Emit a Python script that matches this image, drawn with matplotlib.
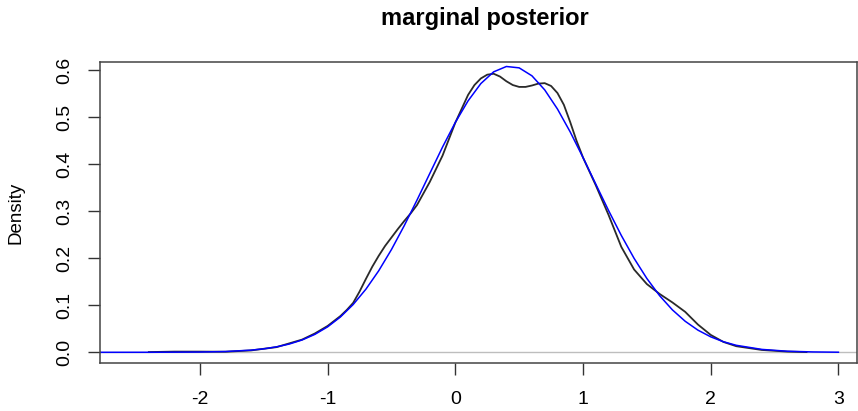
import matplotlib.pyplot as plt

# posterior sample kernel density (black)
kdeX = [-2.4, -2.2, -2.0, -1.8, -1.6, -1.4, -1.2, -1.1, -1.0, -0.9, -0.85, -0.8, -0.75,
        -0.7, -0.65, -0.6, -0.55, -0.5, -0.45, -0.4, -0.35, -0.3, -0.2, -0.1, 0.0, 0.1,
        0.15, 0.2, 0.25, 0.3, 0.35, 0.4, 0.45, 0.5, 0.55, 0.6, 0.65, 0.7, 0.75, 0.8,
        0.85, 0.9, 0.95, 1.0, 1.1, 1.2, 1.3, 1.4, 1.5, 1.6, 1.7, 1.8, 1.9, 2.0, 2.1,
        2.2, 2.4, 2.6, 2.75]
kdeY = [0.0005, 0.0015, 0.0015, 0.0012, 0.004, 0.011, 0.027, 0.040, 0.056, 0.077, 0.090,
        0.105, 0.129, 0.156, 0.182, 0.205, 0.226, 0.244, 0.262, 0.279, 0.295, 0.313,
        0.362, 0.418, 0.488, 0.547, 0.568, 0.582, 0.590, 0.592, 0.586, 0.576, 0.568,
        0.564, 0.564, 0.567, 0.571, 0.572, 0.566, 0.551, 0.526, 0.489, 0.449, 0.414,
        0.355, 0.292, 0.224, 0.176, 0.145, 0.124, 0.106, 0.086, 0.059, 0.037, 0.022,
        0.013, 0.005, 0.0015, 0.0005]

# approximating normal density (blue)
normX = [-2.782, -2.4, -2.0, -1.8, -1.6, -1.5, -1.4, -1.3, -1.2, -1.1, -1.0, -0.9, -0.8,
         -0.7, -0.6, -0.5, -0.4, -0.3, -0.2, -0.1, 0.0, 0.1, 0.2, 0.3, 0.4, 0.5, 0.6,
         0.7, 0.8, 0.9, 1.0, 1.1, 1.2, 1.3, 1.4, 1.5, 1.6, 1.7, 1.8, 1.9, 2.0, 2.1,
         2.2, 2.4, 2.6, 2.8, 3.0]
normY = [0.0, 0.00005, 0.0006, 0.0017, 0.0046, 0.0074, 0.0116, 0.0176, 0.0262, 0.0381,
         0.0541, 0.0750, 0.1015, 0.1342, 0.1732, 0.2184, 0.2691, 0.3235, 0.3800, 0.4362,
         0.4885, 0.5344, 0.5711, 0.5960, 0.6074, 0.6045, 0.5876, 0.5577, 0.5170, 0.4682,
         0.4139, 0.3574, 0.3014, 0.2483, 0.1997, 0.1569, 0.1203, 0.0902, 0.0660, 0.0471,
         0.0329, 0.0224, 0.0149, 0.0062, 0.0023, 0.0008, 0.0002]

xTicks = [-2, -1, 0, 1, 2, 3]
yTicks = [0.0, 0.1, 0.2, 0.3, 0.4, 0.5, 0.6]

plt.rcParams['font.family'] = ['Liberation Sans', 'DejaVu Sans']

fig = plt.figure(figsize=(8.58, 4.11), dpi=100)
ax = fig.add_axes([0.1166, 0.1160, 0.8823, 0.7339])

ax.axhline(0, color='#bebebe', lw=1)
ax.plot(kdeX, kdeY, color='#2a2a2a', lw=1.3)
ax.plot(normX, normY, color='blue', lw=1.1)

ax.set_xlim(-2.782, 3.146)
ax.set_ylim(-0.0234, 0.6176)
ax.set_xticks(xTicks)
ax.set_xticklabels([str(t) for t in xTicks])
ax.set_yticks(yTicks)
ax.set_yticklabels(['%.1f' % t for t in yTicks], rotation=90, va='center')
ax.tick_params(length=8.6, width=1, labelsize=14, pad=11, colors='#333333', labelcolor='black')
for s in ax.spines.values():
    s.set_color('#444444')
    s.set_linewidth(1.1)

ax.set_ylabel('Density', fontsize=13.5)
ax.yaxis.set_label_coords(-0.1, 0.5)
fig.text(0.565, 1 - 25 / 411, 'marginal posterior', ha='center', va='baseline',
         fontsize=17, fontweight='bold')

fig.savefig('out.png', dpi=100)
